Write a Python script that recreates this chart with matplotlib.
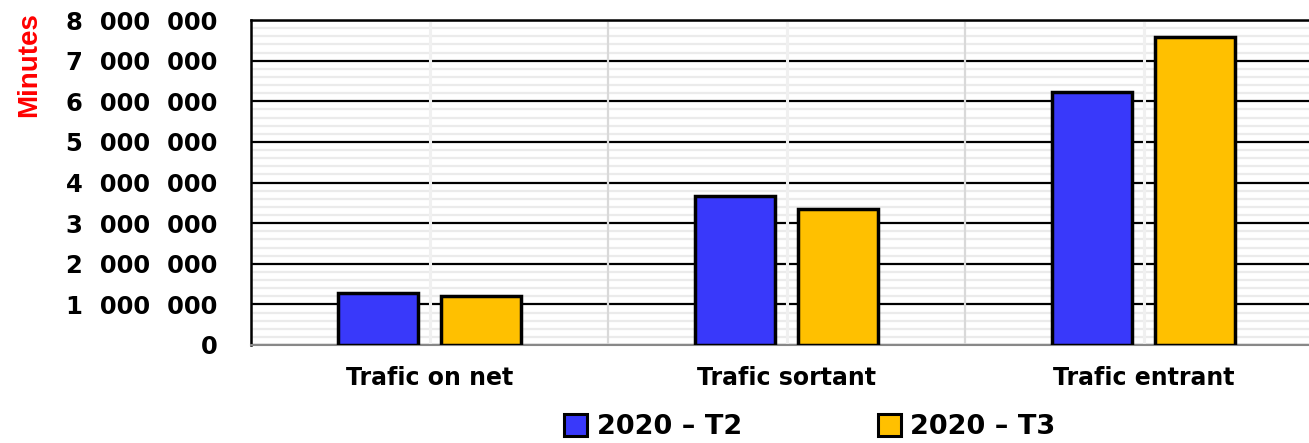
import numpy as np
import matplotlib.pyplot as plt
from matplotlib.patches import Patch
from matplotlib.ticker import FuncFormatter, MultipleLocator

# ----------------------------
# Data
# ----------------------------
categories = ["Trafic on net", "Trafic sortant", "Trafic entrant"]
series_names = ["2020 \u2013 T2", "2020 \u2013 T3"]
t2_values = [1280000, 3670000, 6240000]
t3_values = [1210000, 3350000, 7570000]

COLORS = ["#3939FA", "#FFC000"]

plt.rcParams['font.family'] = ['DejaVu Sans']


def fmt_millions(v, pos):
    # "8 000 000" style, wide gaps like the original
    return f"{int(round(v)):,}".replace(",", "  ")


def main():
    fig = plt.figure(figsize=(13.09, 4.43), dpi=100)
    ax = fig.add_axes([251 / 1309, 98 / 443, 1071 / 1309, 325 / 443])

    x = np.arange(len(categories))
    width = 0.224
    offset = 0.143

    for i, (vals, name) in enumerate(zip([t2_values, t3_values], series_names)):
        pos = x + (-offset if i == 0 else offset)
        ax.bar(pos, vals, width=width, color=COLORS[i], edgecolor="black",
               linewidth=2.5, zorder=4, label=name)

    ax.set_xlim(-0.5, len(categories) - 0.5)
    ax.set_ylim(0, 8000000)

    # horizontal grid: black majors, light minors
    ax.yaxis.set_major_locator(MultipleLocator(1000000))
    ax.yaxis.set_minor_locator(MultipleLocator(200000))
    ax.grid(which="major", axis="y", color="black", linewidth=1.6, zorder=1)
    ax.grid(which="minor", axis="y", color="#ebebeb", linewidth=1.6, zorder=0)
    ax.set_axisbelow(True)

    # vertical lines, drawn over horizontal grid but under bars
    for b in np.arange(-0.5, len(categories), 1.0):
        ax.axvline(b, color="#d9d9d9", linewidth=1.6, zorder=2)
    for c in x:
        ax.axvline(c, color="#f0f0f0", linewidth=2.2, zorder=2)

    ax.yaxis.set_major_formatter(FuncFormatter(fmt_millions))
    ax.tick_params(axis="y", which="both", length=0, pad=24,
                   labelsize=17.5)
    for lbl in ax.get_yticklabels():
        lbl.set_fontweight("bold")

    ax.set_xticks(x)
    ax.set_xticklabels(categories, fontsize=17, fontweight="bold")
    ax.tick_params(axis="x", length=0, pad=15)

    for side in ["left", "top"]:
        ax.spines[side].set_color("black")
        ax.spines[side].set_linewidth(1.8)
    ax.spines["bottom"].set_color("#888888")
    ax.spines["bottom"].set_linewidth(1.5)
    ax.spines["right"].set_visible(False)

    fig.text(29 / 1309, 1 - 65 / 443, "Minutes", rotation=90, color="#FF0000",
             fontsize=20, fontweight="bold", ha="center", va="center",
             family=["Liberation Sans Narrow", "Liberation Sans"])

    handles = [Patch(facecolor=COLORS[i], edgecolor="black", linewidth=2.2)
               for i in range(2)]
    fig.legend(handles, series_names, loc="center", ncol=2,
               bbox_to_anchor=(810 / 1309, 1 - 427 / 443), frameon=False,
               prop={"weight": "bold", "size": 19.5}, handlelength=0.85,
               handleheight=0.85, handletextpad=0.36, columnspacing=5.0,
               borderpad=0.0)

    fig.savefig("out.png", dpi=100)


if __name__ == "__main__":
    main()
